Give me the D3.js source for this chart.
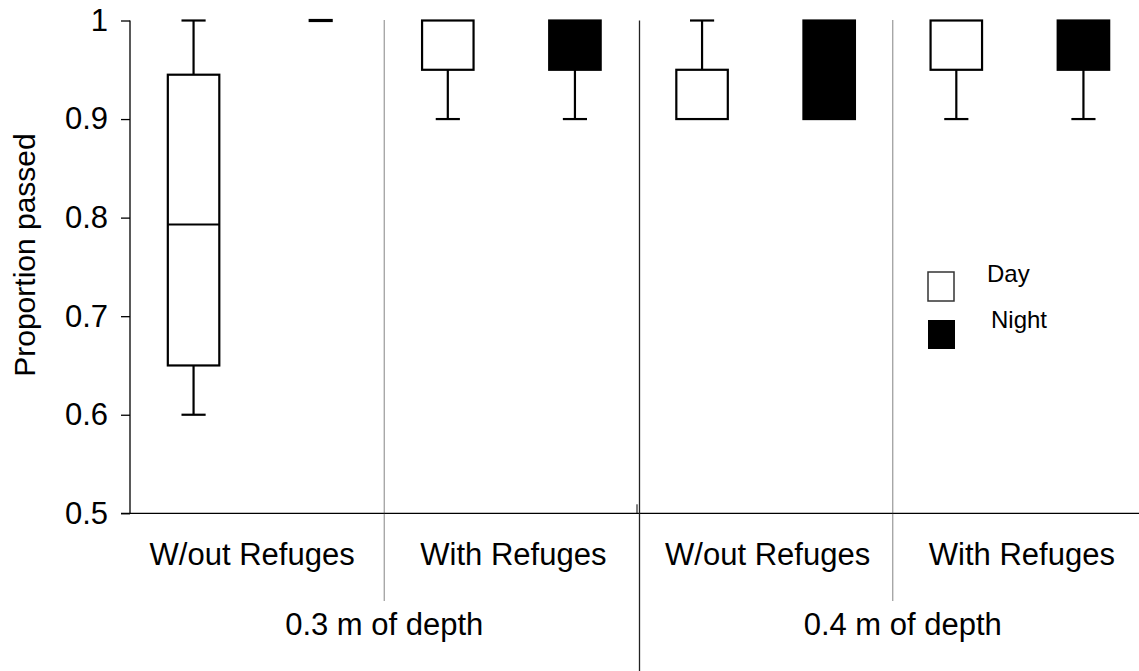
<!DOCTYPE html>
<html><head><meta charset="utf-8">
<script src="https://cdn.jsdelivr.net/npm/d3@7"></script>
<style>body{margin:0;background:#fff}svg{display:block;font-family:Arial,"Liberation Sans",sans-serif}</style>
</head><body><svg id="c" width="1139" height="671"></svg>
<script>
// ---- data ----
const depths = ["0.3 m of depth", "0.4 m of depth"];
const refuges = ["W/out Refuges", "With Refuges"];
const periods = ["Day", "Night"];
const yTicks = [0.5, 0.6, 0.7, 0.8, 0.9, 1];
// five-number summaries [min, q1, median, q3, max] per group (0.3 W/out, 0.3 With, 0.4 W/out, 0.4 With)
const dayStats = [
  [0.60, 0.65, 0.793, 0.945, 1.00],
  [0.90, 0.95, 1.00, 1.00, 1.00],
  [0.90, 0.90, 0.90, 0.95, 1.00],
  [0.90, 0.95, 1.00, 1.00, 1.00]
];
const nightStats = [
  [1.00, 1.00, 1.00, 1.00, 1.00],
  [0.90, 0.95, 1.00, 1.00, 1.00],
  [0.90, 0.90, 0.90, 1.00, 1.00],
  [0.90, 0.95, 1.00, 1.00, 1.00]
];

const svg = d3.select("#c");
const y = d3.scaleLinear().domain([0.5, 1]).range([513.3, 20.5]);
const slots = [];
for (let g = 0; g < 4; g++) for (const p of periods) slots.push(g + "|" + p);
const x = d3.scaleBand().domain(slots).range([130, 1147]).padding(0);
const step = x.step();
const cx = k => x(k) + step / 2;
const boxW = step * 0.405, capW = step * 0.19;

// y axis
const yAxis = svg.append("g").attr("transform", "translate(130,0)")
  .call(d3.axisLeft(y).tickValues(yTicks).tickFormat(d => d === 1 ? "1" : d3.format(".1f")(d)).tickSize(9).tickPadding(13));
yAxis.select(".domain").attr("stroke", "#000").attr("stroke-width", 1.3).attr("d", `M0,${y(1)}V${y(0.5)}`);
yAxis.selectAll(".tick line").attr("stroke", "#000").attr("stroke-width", 1.3);
yAxis.selectAll(".tick text").attr("font-size", 31).attr("font-family", "Arial, 'Liberation Sans', sans-serif").attr("fill", "#000");

// x axis line
svg.append("line").attr("x1", 121).attr("x2", 1139).attr("y1", y(0.5)).attr("y2", y(0.5))
  .attr("stroke", "#000").attr("stroke-width", 1.3);
// small tick at middle
svg.append("line").attr("x1", x("2|Day") - 1.5).attr("x2", x("2|Day") - 1.5).attr("y1", y(0.5) - 9).attr("y2", y(0.5))
  .attr("stroke", "#000").attr("stroke-width", 1);

// separators
[1, 3].forEach(g => {
  svg.append("line").attr("x1", x(g + "|Day")).attr("x2", x(g + "|Day"))
    .attr("y1", y(1)).attr("y2", 601)
    .attr("stroke", "#333").attr("stroke-width", 1.2).attr("stroke-dasharray", "1,1");
});
svg.append("line").attr("x1", x("2|Day") + 1).attr("x2", x("2|Day") + 1).attr("y1", y(1)).attr("y2", 671)
  .attr("stroke", "#222").attr("stroke-width", 1.3);

// y label
svg.append("text").attr("transform", "translate(35,255) rotate(-90)").attr("text-anchor", "middle")
  .attr("font-size", 30).text("Proportion passed");

// boxes
function drawBox(s, key, fill) {
  const c = cx(key);
  const [mn, q1, md, q3, mx] = s;
  const g = svg.append("g").attr("stroke", "#000").attr("stroke-width", 2.2);
  if (q1 === q3) {
    g.append("line").attr("x1", c - capW / 2).attr("x2", c + capW / 2).attr("y1", y(q3)).attr("y2", y(q3)).attr("stroke-width", 3.2);
    return;
  }
  if (mx > q3) {
    g.append("line").attr("x1", c).attr("x2", c).attr("y1", y(mx)).attr("y2", y(q3));
    g.append("line").attr("x1", c - capW / 2).attr("x2", c + capW / 2).attr("y1", y(mx)).attr("y2", y(mx));
  }
  if (mn < q1) {
    g.append("line").attr("x1", c).attr("x2", c).attr("y1", y(q1)).attr("y2", y(mn));
    g.append("line").attr("x1", c - capW / 2).attr("x2", c + capW / 2).attr("y1", y(mn)).attr("y2", y(mn));
  }
  g.append("rect").attr("x", c - boxW / 2).attr("y", y(q3)).attr("width", boxW).attr("height", y(q1) - y(q3))
    .attr("fill", fill);
  if (md > q1 && md < q3) {
    g.append("line").attr("x1", c - boxW / 2).attr("x2", c + boxW / 2).attr("y1", y(md)).attr("y2", y(md));
  }
}
dayStats.forEach((s, i) => drawBox(s, i + "|Day", "#fff"));
nightStats.forEach((s, i) => drawBox(s, i + "|Night", "#000"));

// category labels
for (let g = 0; g < 4; g++) {
  const c = (cx(g + "|Day") + cx(g + "|Night")) / 2;
  svg.append("text").attr("x", c + (g === 0 ? -5 : 2)).attr("y", 565).attr("text-anchor", "middle").attr("font-size", 31)
    .text(refuges[g % 2]);
}
depths.forEach((d, i) => {
  const c = (x(i * 2 + "|Day") + x((i * 2 + 1) + "|Night") + step) / 2;
  svg.append("text").attr("x", c + (i === 1 ? 10 : 0)).attr("y", 635).attr("text-anchor", "middle").attr("font-size", 31).text(d);
});

// legend
const leg = svg.append("g");
leg.append("rect").attr("x", 928).attr("y", 272).attr("width", 26).attr("height", 29).attr("fill", "#fff").attr("stroke", "#333").attr("stroke-width", 1.5);
leg.append("rect").attr("x", 928).attr("y", 320).attr("width", 27).attr("height", 29).attr("fill", "#000");
leg.append("text").attr("x", 987).attr("y", 282).attr("font-size", 24).text(periods[0]);
leg.append("text").attr("x", 991).attr("y", 328).attr("font-size", 24).text(periods[1]);
</script></body></html>
